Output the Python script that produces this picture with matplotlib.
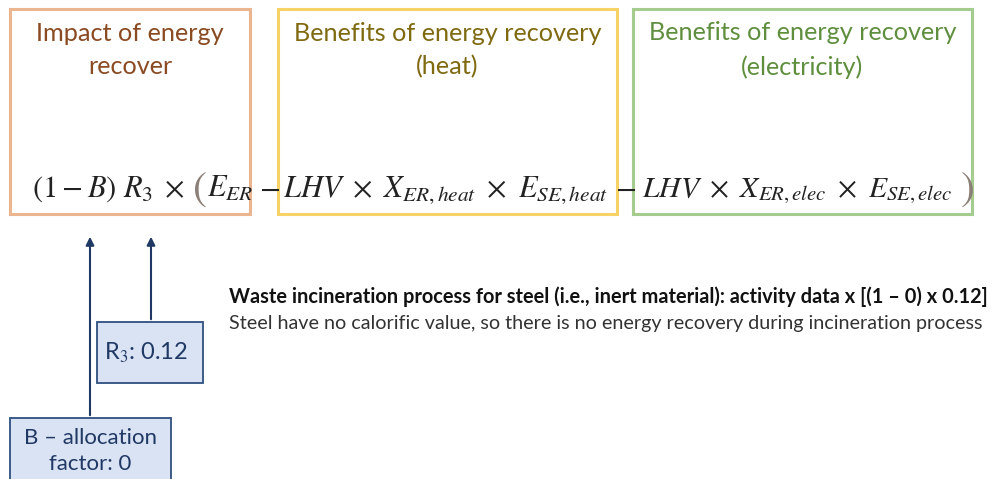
import matplotlib.pyplot as plt
from matplotlib.patches import Rectangle

plt.rcParams["font.family"] = ["Lato", "DejaVu Sans"]
plt.rcParams["mathtext.fontset"] = "stix"

# diagram content
box_titles = [
    "Impact of energy\nrecover",
    "Benefits of energy recovery\n(heat)",
    "Benefits of energy recovery\n(electricity)",
]
formula_parts = [
    r"$(1-B)\ R_3\;\times$",
    r"$E_{ER}$",
    r"$-$",
    r"$LHV\ \times\ X_{ER,heat}\ \times\ E_{SE,heat}$",
    r"$-$",
    r"$LHV\ \times\ X_{ER,elec}\ \times\ E_{SE,elec}$",
]
B_value = 0
R3_value = 0.12
note_bold = "Waste incineration process for steel (i.e., inert material): activity data x [(1 \u2013 0) x 0.12]"
note_plain = "Steel have no calorific value, so there is no energy recovery during incineration process"

W, H = 994, 479
fig = plt.figure(figsize=(W / 100, H / 100), dpi=100)
ax = fig.add_axes([0, 0, 1, 1])
ax.set_xlim(0, W)
ax.set_ylim(H, 0)
ax.axis("off")

edge_colors = ["#EBB58F", "#F7D267", "#A3CC8E"]
text_colors = ["#8A4B22", "#7F6A12", "#5F8F3E"]
box_x = [(10, 250), (278, 617), (633, 972)]
for (x0, x1), title, ec, tc in zip(box_x, box_titles, edge_colors, text_colors):
    ax.add_patch(Rectangle((x0, 9), x1 - x0, 205, fill=False, edgecolor=ec, linewidth=2.2))
    ax.text((x0 + x1) / 2, 50, title, ha="center", va="center", color=tc,
            fontsize=18.2, linespacing=1.55)

# formula pieces
fx = [32, 207, 269, 283, 625, 642]
fha = ["left", "left", "center", "left", "center", "left"]
fsize = [22, 22, 22, 22, 22, 21.3]
for x, part, ha, fs in zip(fx, formula_parts, fha, fsize):
    ax.text(x, 197, part, ha=ha, va="baseline", fontsize=fs, color="#222222")
# the tall grey brackets around the energy terms
ax.text(192, 200, "$($", ha="left", va="baseline", fontsize=30, color="#8C7F78")
ax.text(960, 200, "$)$", ha="left", va="baseline", fontsize=30, color="#8C7F78")

# arrows from the parameter boxes
navy = "#1F3864"
ax.annotate("", xy=(90, 234), xytext=(90, 418),
            arrowprops=dict(arrowstyle="-|>", color=navy, lw=1.5, mutation_scale=12))
ax.annotate("", xy=(151, 234), xytext=(151, 322),
            arrowprops=dict(arrowstyle="-|>", color=navy, lw=1.5, mutation_scale=12))

fill = "#DAE3F3"
edge = "#2F4F80"
ax.add_patch(Rectangle((97, 322), 106, 61, facecolor=fill, edgecolor=edge, linewidth=1.3))
ax.text(146, 353, f"R$_3$: {R3_value}", ha="center", va="center", color=navy, fontsize=17)

ax.add_patch(Rectangle((10, 418), 161, 80, facecolor=fill, edgecolor=edge, linewidth=1.3))
ax.text(90, 451, f"B \u2013 allocation\nfactor: {B_value}", ha="center", va="center",
        color=navy, fontsize=16, linespacing=1.35)

ax.text(229, 297, note_bold, ha="left", va="center", fontsize=14.4, fontweight="bold",
        color="#111111")
ax.text(229, 323, note_plain, ha="left", va="center", fontsize=14.2, color="#333333")

fig.savefig("out.png", dpi=100)
